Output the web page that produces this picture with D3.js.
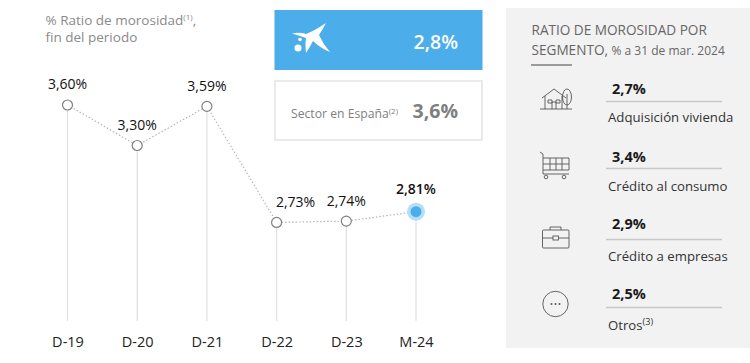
<!DOCTYPE html>
<html>
<head>
<meta charset="utf-8">
<script src="https://cdn.jsdelivr.net/npm/d3@7"></script>
<style>
  html, body { margin: 0; padding: 0; background: #fff; }
  svg { display: block; }
  text { font-family: "Open Sans", "Noto Sans", sans-serif; }
</style>
</head>
<body>
<div id="chart"></div>
<script>
// datos
const periods = ["D-19", "D-20", "D-21", "D-22", "D-23", "M-24"];
const ratios = [3.60, 3.30, 3.59, 2.73, 2.74, 2.81];
const ratioLabels = ["3,60%", "3,30%", "3,59%", "2,73%", "2,74%", "2,81%"];
const segments = ["Adquisición vivienda", "Crédito al consumo", "Crédito a empresas", "Otros"];
const segmentValues = ["2,7%", "3,4%", "2,9%", "2,5%"];

const width = 750;
const height = 363;

const svg = d3.select("#chart").append("svg")
    .attr("width", width)
    .attr("height", height);

const xScale = d3.scalePoint().domain(periods).range([67.5, 416]);
const yScale = d3.scaleLinear().domain([2, 4]).range([321, 51]);

// titulo
const title = svg.append("text").attr("x", 45.5).attr("y", 25).attr("fill", "#8a8a8a").attr("font-size", 13.5);
title.append("tspan").text("% Ratio de morosidad");
title.append("tspan").attr("font-size", 8).attr("dy", -5).text("(1)");
title.append("tspan").attr("dy", 5).text(",");
svg.append("text").attr("x", 45.5).attr("y", 42).attr("fill", "#8a8a8a").attr("font-size", 13.5).text("fin del periodo");

// lineas verticales
svg.append("g").selectAll("line")
    .data(periods)
    .enter()
    .append("line")
    .attr("x1", d => xScale(d))
    .attr("x2", d => xScale(d))
    .attr("y1", (d, i) => yScale(ratios[i]))
    .attr("y2", yScale(2))
    .attr("stroke", "#e2e2e2")
    .attr("stroke-width", 1.3);

// linea punteada
const line = d3.line()
    .x((d, i) => xScale(periods[i]))
    .y(d => yScale(d));

svg.append("path")
    .datum(ratios)
    .attr("d", line)
    .attr("fill", "none")
    .attr("stroke", "#b5b5b5")
    .attr("stroke-width", 1.2)
    .attr("stroke-dasharray", "1.5,2");

// puntos
const last = periods.length - 1;
svg.append("circle")
    .attr("cx", xScale(periods[last]))
    .attr("cy", yScale(ratios[last]))
    .attr("r", 9)
    .attr("fill", "#b3e0f7");

svg.append("g").selectAll("circle")
    .data(ratios)
    .enter()
    .append("circle")
    .attr("cx", (d, i) => xScale(periods[i]))
    .attr("cy", d => yScale(d))
    .attr("r", (d, i) => i === last ? 5.5 : 5)
    .attr("fill", (d, i) => i === last ? "#4bade9" : "#fff")
    .attr("stroke", (d, i) => i === last ? "none" : "#7f7f7f")
    .attr("stroke-width", 1.2);

// etiquetas de valores
const labelDx = [0, 0, 0, 19, 0, 0];
const labelDy = [-16, -15.5, -15, -15, -15, -17.5];
svg.append("g").selectAll("text")
    .data(ratioLabels)
    .enter()
    .append("text")
    .attr("x", (d, i) => xScale(periods[i]) + labelDx[i])
    .attr("y", (d, i) => yScale(ratios[i]) + labelDy[i])
    .attr("text-anchor", "middle")
    .attr("font-size", 14)
    .attr("fill", "#111")
    .attr("font-weight", (d, i) => i === last ? 600 : 400)
    .text(d => d);

// eje x
const xAxis = svg.append("g")
    .attr("transform", "translate(0,321)")
    .call(d3.axisBottom(xScale).tickSize(0).tickPadding(16));
xAxis.select(".domain").remove();
xAxis.selectAll("text")
    .attr("font-size", 14.5)
    .attr("fill", "#222")
    .style("font-family", '"Open Sans", sans-serif');

// caja azul
svg.append("rect").attr("x", 274.5).attr("y", 10).attr("width", 208).attr("height", 60).attr("fill", "#4bade9");
svg.append("path")
    .attr("d", "M292 33.5 Q300 32 306 34 Q314 31 326 23 Q323 29 319 35 Q323 44 330 52 Q320 48 313 41 Q310 47 306 53 Q305 44 306 38 Q298 35 292 33.5 Z")
    .attr("fill", "#fff");
svg.append("circle").attr("cx", 298).attr("cy", 48).attr("r", 3.5).attr("fill", "#fff");
svg.append("circle").attr("cx", 300).attr("cy", 39.5).attr("r", 1.8).attr("fill", "#fff");
svg.append("text").attr("x", 458).attr("y", 49).attr("text-anchor", "end")
    .attr("font-size", 19.5).attr("font-weight", 600).attr("fill", "#fff").text("2,8%");

// caja sector
svg.append("rect").attr("x", 275).attr("y", 81).attr("width", 207).attr("height", 59)
    .attr("fill", "#fff").attr("stroke", "#e3e3e3").attr("stroke-width", 1.5);
const sector = svg.append("text").attr("x", 291).attr("y", 118).attr("fill", "#7f7f7f").attr("font-size", 12.2);
sector.append("tspan").text("Sector en España");
sector.append("tspan").attr("font-size", 8).attr("dy", -4).text("(2)");
svg.append("text").attr("x", 458).attr("y", 118).attr("text-anchor", "end")
    .attr("font-size", 19.5).attr("font-weight", 700).attr("fill", "#7f7f7f").text("3,6%");

// panel derecho
svg.append("rect").attr("x", 506).attr("y", 8).attr("width", 244).attr("height", 340).attr("fill", "#f2f2f2");
svg.append("text").attr("x", 531.5).attr("y", 35).attr("fill", "#666").attr("font-size", 13.6).text("RATIO DE MOROSIDAD POR");
const sub = svg.append("text").attr("x", 531.5).attr("y", 55).attr("fill", "#666").attr("font-size", 13.6);
sub.append("tspan").text("SEGMENTO, ");
sub.append("tspan").attr("font-size", 12).text("% a 31 de mar. 2024");
svg.append("line").attr("x1", 531).attr("x2", 572).attr("y1", 65).attr("y2", 65).attr("stroke", "#444").attr("stroke-width", 1);

// posiciones de cada fila del panel
const ruleY = [101.5, 168.5, 239.5, 307.5];
const valueY = [94, 162, 229, 299];
const nameY = [121.5, 191, 261, 330];

const rows = svg.append("g").selectAll("g")
    .data(segments)
    .enter()
    .append("g");

rows.append("line")
    .attr("x1", 606).attr("x2", 722)
    .attr("y1", (d, i) => ruleY[i]).attr("y2", (d, i) => ruleY[i])
    .attr("stroke", "#c8c8c8").attr("stroke-width", 1.5);
rows.append("text")
    .attr("x", 612).attr("y", (d, i) => valueY[i])
    .attr("font-size", 14.5).attr("font-weight", 700).attr("fill", "#1a1a1a")
    .text((d, i) => segmentValues[i]);
const rowLabels = rows.append("text")
    .attr("x", 608).attr("y", (d, i) => nameY[i])
    .attr("font-size", 13.2).attr("fill", "#333")
    .text(d => d);
rowLabels.filter(d => d === "Otros").append("tspan")
    .attr("font-size", 9).attr("dy", -5).text("(3)");

// iconos
const icons = svg.append("g").attr("fill", "none").attr("stroke", "#555").attr("stroke-width", 0.9);
icons.append("path").attr("d", "M540 109 H572 M542 98 L554 89 L566 98 M545 96 V109 M562 96 V109 M548 103 h4 v-3 h-4 z M556 103 h4 v-3 h-4 z M552 109 v-7 h4 v7");
icons.append("ellipse").attr("cx", 567).attr("cy", 97).attr("rx", 4.5).attr("ry", 8);
icons.append("path").attr("d", "M567 94 V109");
icons.append("path").attr("d", "M540 152 L543 154 V174 H569 M543 158 H569 V170 H543 M543 164 H569 M550 158 V170 M556 158 V170 M562 158 V170");
icons.append("circle").attr("cx", 546).attr("cy", 177).attr("r", 1.8);
icons.append("circle").attr("cx", 564).attr("cy", 177).attr("r", 1.8);
icons.append("rect").attr("x", 542.5).attr("y", 230).attr("width", 26.5).attr("height", 18).attr("rx", 1);
icons.append("path").attr("d", "M542.5 238 H553 M558.5 238 H569 M550 230 V227 H561 V230");
icons.append("rect").attr("x", 553).attr("y", 236).attr("width", 5.5).attr("height", 4);
icons.append("circle").attr("cx", 555.5).attr("cy", 304).attr("r", 12.7);
svg.append("g").selectAll("circle")
    .data([-4, 0, 4])
    .enter()
    .append("circle")
    .attr("cx", d => 555.5 + d)
    .attr("cy", 304)
    .attr("r", 1)
    .attr("fill", "#555");
</script>
</body>
</html>
